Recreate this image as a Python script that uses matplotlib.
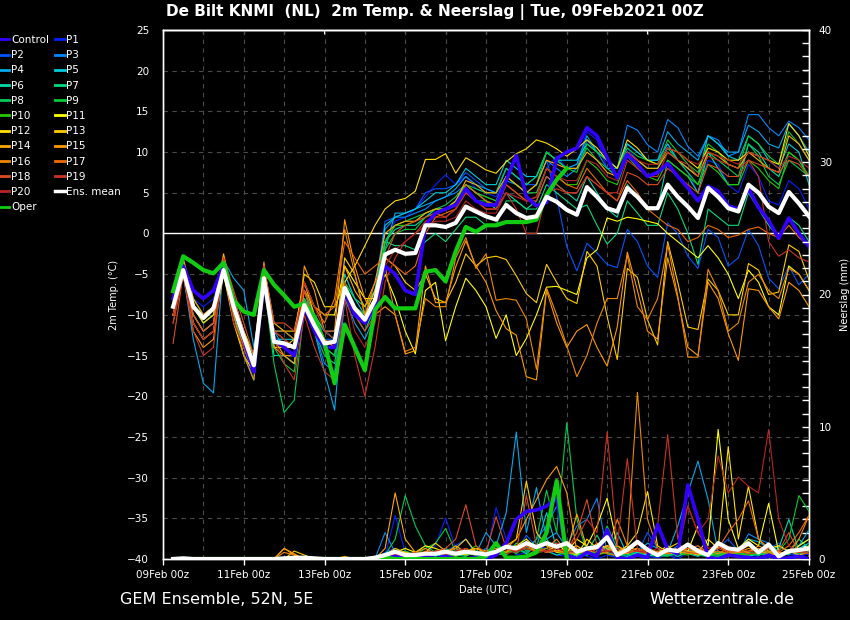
"""
GEM ensemble meteogram, De Bilt
===============================
2m temperature (left axis) and 6-hourly precipitation (right axis) for
control, 20 perturbed members, the operational run and the ensemble mean.
Writes out.png.
"""

import matplotlib

matplotlib.use("Agg")
import matplotlib.pyplot as plt
import numpy as np
from matplotlib.lines import Line2D
from matplotlib.ticker import MultipleLocator

# Lead time of every value in hours after 09Feb2021 00Z (first value is 06Z)
lead_hours = np.arange(6, 385, 6)

date_ticks = [0, 48, 96, 144, 192, 240, 288, 336, 384]
date_labels = ["09Feb 00z", "11Feb 00z", "13Feb 00z", "15Feb 00z", "17Feb 00z",
               "19Feb 00z", "21Feb 00z", "23Feb 00z", "25Feb 00z"]

member_names = ["Control", "P1", "P2", "P3", "P4", "P5", "P6", "P7", "P8", "P9",
                "P10", "P11", "P12", "P13", "P14", "P15", "P16", "P17", "P18",
                "P19", "P20"]
member_colors = ["#3300ff", "#0022ff", "#0055ff", "#0088ff", "#00aaee", "#00ccdd",
                 "#00dda8", "#00dd80", "#00cc55", "#00cc33", "#22cc00", "#ffff00",
                 "#ffe000", "#ffcc00", "#ffaa00", "#ff9900", "#ee8800", "#ee6a00",
                 "#dd4a22", "#cc3322", "#bb2222"]
oper_color = "#11cc11"

# ---------------------------------------------------------------- 2m temp
t_control = [-8, -4, -7, -8, -7, -4, -9, -13,
             -17, -6, -13, -14, -15, -9, -12, -14,
             -14, -7, -10, -11, -9, -4, -5, -7,
             -7.5, 1, 2.5, 3, 3.5, 5.5, 4, 3.5,
             3.5, 6.5, 9.6, 4.5, 3.4, 3.8, 9.2, 10,
             10.5, 13, 12, 9.3, 6.8, 9.7, 8.5, 7,
             7.5, 8.6, 7, 5.6, 4, 5.8, 5.2, 3.4,
             3, 5.5, 3.2, 1.6, -0.6, 1.9, 0, -1.6]
t_p01 = [-8, -4, -8, -9, -8, -3.5, -9, -14,
         -18, -5, -13, -14, -15, -9, -11, -12,
         -12, -6, -9, -11, -9, -1, 1.5, 2,
         3, 4.5, 6, 7.2, 6, 7, 5.5, 5,
         4.5, 7, 6, 5, 5, 8, 9.5, 8,
         8.5, 12.5, 11.5, 8, 7, 10.5, 9, 8,
         8, 11, 9, 7.5, 5, 9, 8.5, 6,
         5, 8.5, 7, 4, 3.5, 6.5, 5.5, 3]
t_p02 = [-9, -5, -9, -11, -10, -5, -9, -12,
         -15, -5, -12, -12, -13, -8, -11, -13,
         -13, -6, -9, -10, -7, 1.5, 2, 2.5,
         3, 5, 5.5, 5.5, 6, 7.5, 6.5, 5.5,
         5, 8, 7, 6, 6, 9, 4.5, -1.6,
         -4.6, -1.2, -2.4, -3.8, -4.2, 0.5, -1, -4,
         -5.4, 1.3, 0, -2.8, -4.3, 0.5, -0.5, -4,
         -3, 0.5, -1.5, -5.5, -6.8, -4, -6.3, -5]
t_p03 = [-9, -4, -10, -12, -11, -4, -9, -14,
         -17, -5, -14, -15, -16, -9, -12, -16,
         -17, -7, -9, -11, -8, 0.5, 2, 2,
         2.5, 3, 4, 4.5, 5, 6, 5, 4.5,
         4, 6.5, 6, 5, 6, 9, 8, 7,
         8, 11.5, 10, 8, 8, 13.3, 12.7, 10.9,
         10, 14, 13, 10.7, 9.5, 12, 11.5, 9.5,
         10, 14.6, 14.6, 13, 12, 13.8, 13, 11.5]
t_p04 = [-10, -5, -13, -18.4, -19.6, -3.3, -5.5, -7,
         -14, -6, -12, -14, -15, -8, -12, -17,
         -21.7, -8, -11, -13, -10, -2, 2.5, 2.5,
         3, 3.5, 4, 4.5, 5.5, 7, 6, 5.5,
         5, 8, 7, 6, 7, 10, 9, 8,
         8.5, 12, 10, 9, 8, 11, 10, 9,
         9, 12.5, 11, 10, 9, 12, 11, 10,
         10, 13.3, 12.5, 11, 10.5, 13.5, 12, 10]
t_p05 = [-9, -4, -9, -10, -9, -4, -8, -12,
         -15, -5, -13, -13, -13, -8, -10, -12,
         -13, -5, -8, -10, -8, 1, 2, 2.5,
         3, 4, 5, 5, 6, 8, 7, 6,
         6, 9, 8, 7, 7, 10, 9, 9,
         9, 11, 10, 9, 8, 11, 10, 9,
         9, 11, 9, 8, 7, 12, 11, 9.5,
         9, 12, 11, 9, 8, 11, 10, 6]
t_p06 = [-8, -4, -9, -11, -10, -5, -10, -14,
         -17, -6, -15, -15, -16, -9, -12, -14,
         -15, -7, -10, -12, -9, -1, 0.5, 1,
         1, 2, 3, 3, 4, 6, 5, 4,
         3, 5, 4, 3, 4, 7, 6, 5,
         4, 7, 5, 3, 2, 6, 4.5, 3,
         3, 9, 8, 7, 5, 10, 8, 6,
         6, 11, 10, 8, 7, 10, 9, 7]
t_p07 = [-9, -4, -9, -10, -9, -4, -8, -12,
         -16, -4, -12, -12, -13, -7, -10, -12,
         -13, -6, -8, -9, -7, -1, -1.5, -1.5,
         -2, -1, 0, -1, 0.5, 2, 2, 1,
         1, 4, 4, 3, 3, 6, 5, 4,
         3, 3.5, 1, -1.3, 0, 4, 2.5, 1,
         1, 5, 3, 0, -3.8, 3, 2, 1,
         1, 5, 3, 1, -0.5, 2, 1, -1]
t_p08 = [-9, -4, -11, -13, -12, -4, -10, -15,
         -18, -6, -16, -22, -20.5, -9, -12, -15,
         -16, -7, -10, -11, -9, -1, 1, 1.5,
         2, 2.5, 3, 3.5, 4.5, 6, 5.5, 5,
         5, 8, 7, 6, 7, 10, 9, 8,
         8, 10.5, 9, 8, 7, 10, 9, 8,
         8, 10.5, 9, 7.5, 6, 10, 9, 8,
         7, 11, 9.5, 7, 6, 9, 8, 7]
t_p09 = [-8, -3.5, -8, -10, -9, -4, -9, -13,
         -17, -5, -14, -16, -17, -8, -12, -14,
         -15, -6, -9, -11, -9, -2, 0, 0.5,
         0.5, 2, 2.5, 3, 3.5, 5, 4, 4,
         3.5, 7, 6, 5, 6, 10, 9, 8,
         7.5, 11, 10, 9, 8, 10.5, 9.5, 9,
         8.5, 11.5, 10, 8.5, 7.5, 11, 10, 8.5,
         8, 12, 11, 9.5, 8.5, 12.5, 11, 9]
t_p10 = [-9, -4, -9, -11, -10, -5, -10, -14,
         -17, -5, -14, -14, -15, -9, -12, -14,
         -14, -6, -9, -10, -8, -1, 1, 1,
         1.5, 2.5, 3, 3, 4, 6, 5, 4.5,
         4, 7, 6, 5, 5, 8, 7, 6,
         6, 9, 8, 6.5, 6, 9.5, 8, 7,
         6.5, 9, 8, 7, 6, 8.5, 7.5, 6,
         6, 9, 8, 6.5, 5.5, 10, 9, 7]
t_p11 = [-10, -5, -10, -12, -11, -4, -9, -13,
         -16, -5, -13, -14, -14, -6, -9, -10,
         -10, -4, -6, -8, -8, -5, -8, -12,
         -14.8, -7, -6, -13.2, -9, -5.5, -7, -9,
         -12.9, -10, -15, -12.9, -10, -6.6, -6.5, -7,
         -7.5, -3, -2, 1.9, 1.5, 2, 1.8, 1.5,
         1.2, 0, -1, -2, -3, -1.5, -3, -5,
         -8, -4.5, -6, -9, -10, -4, -5, -7]
t_p12 = [-10, -5, -11, -13, -12, -5, -11, -15,
         -17, -6, -14, -14, -13, -5, -6, -9,
         -9, -6, -4, -1.5, 1, 3, 4, 4.3,
         5.2, 9.1, 9.1, 9.8, 7.4, 9.3, 8.6, 7.8,
         7.4, 8.8, 9.8, 10.4, 11.5, 11.1, 10.4, 9.5,
         10.4, 11.5, 10.5, 9, 8, 11.5, 10.5, 9,
         8.5, 10.5, 10, 9, 8, 10.5, 10, 9,
         9, 10, 9.5, 9, 8.5, 13.5, 12, 9.5]
t_p13 = [-9, -4, -9, -11, -10, -3, -8, -12,
         -15, -4, -11, -12, -12, -6, -10, -13,
         -14, -3, -5, -10, -7, -3, -4, -6,
         -7, -5, -8, -8.5, -6, -2.5, -4, -3,
         -2.8, -3.2, -5.2, -7.4, -8.5, -3.8, -6, -8,
         -8.6, -2.2, -4, -10.2, -15.5, -4.3, -5.4, -10.6,
         -13.7, -1, -6, -11.5, -11.8, -5.6, -7, -10,
         -10, -3.7, -4.5, -7.5, -7.2, -1.4, -2.2, -5.7]
t_p14 = [-9, -3, -8, -10, -9, -2.5, -8, -13,
         -16, -4, -12, -13, -14, -7, -11, -14,
         -13, -4, -7, -9, -6, 0, 1, 1.5,
         1.5, 2.5, 3, 3, 4, 6.5, 6, 5,
         5, 7, 6, 5, 6, 9, 8.5, 8,
         8, 10, 9, 7.5, 7, 10, 9, 8,
         8, 10, 9, 8, 7, 10, 9.5, 8.5,
         8, 10, 9, 8, 7.5, 12, 11, 9]
t_p15 = [-10, -5, -12, -14, -13, -3, -9, -14,
         -17, -3.5, -13, -15, -16, -4, -7, -12,
         -12, 1.7, -4, -8, -10, -9, -10, -14.8,
         -14.4, -4, -8.5, -8.5, -4.1, -0.9, -4, -6,
         -9.5, -11.7, -12.5, -17.6, -18, -7, -11, -14,
         -12, -11.2, -14, -16.3, -11.5, -2.3, -7, -12,
         -13, -3, -8, -14, -15, -6, -8, -12.3,
         -15.6, -6.8, -7, -9, -10.5, -6, -7, -9]
t_p16 = [-11, -5, -11, -13, -12, -4, -10, -15,
         -18, -5, -14, -15, -15, -7, -9, -11,
         -8, 0.5, -5, -10, -6, -4, -10, -14.5,
         -14, -8, -9, -9, -3, -0.5, -4.3, -2.5,
         -8.2, -8, -8.2, -10.5, -16.7, -6.7, -10, -13.8,
         -17.6, -15, -11, -8, -8, -2.7, -9, -10.6,
         -8, -1.3, -7.7, -15.2, -15.2, -4.4, -7, -12,
         -11, -6, -5, -7, -8, -4.3, -5, -7]
t_p17 = [-10, -4, -9, -10, -9, -3.5, -9, -13,
         -16, -4, -12, -12, -13, -6, -9, -10,
         -9, -1, -3, -5, -4, -3, -4, -5,
         -4, 0, 2, 2.5, 3, 6, 5, 4,
         3.5, 6, 5, 4, 4.5, 8, 7, 6,
         5.5, 8, 6.5, 5, 4, 6.5, 5, 3,
         2, 1, 0.5, -1, -0.5, 1, 0.5, -0.5,
         -0.2, 0.5, 0.8, 0, -0.5, 1, -0.5, -1.5]
t_p18 = [-13.5, -5, -10, -12, -11, -3, -7, -11,
         -15, -4, -11, -11, -12, -7, -11, -13,
         -14, -6, -10, -12, -10, -3, 0, 1,
         1.5, 2, 2.5, 2, 3, 5, 4, 3,
         3, 6, 5, 4, 4, 7, 6, 5,
         5, 7, 6, 5, 4, 7.5, 7, 6,
         6, 8, 7, 6, 5, 8.5, 8, 7,
         7, 9, 8.5, 8, 7.5, 9, 8.5, 7]
t_p19 = [-11, -5, -12, -15, -14, -3, -8, -12,
         -17, -4, -13, -16, -18, -10, -14, -17,
         -18, -8, -15, -20, -14, -6, -3, -1,
         0, 1.5, 2, 2, 3, 5, 4, 3,
         3, 5, 3, 0, 0, 5, 5.5, 5,
         5, 7, 6, 5, 5, 9, 8, 7,
         7, 10, 9, 8.5, 7, 9.5, 9, 8.5,
         8, 9, 7, -1, -2.8, -2, -3, -3.5]
t_p20 = [-10, -5, -11, -13, -12, -4, -11, -14,
         -17, -5, -12, -13, -14, -6, -9, -12,
         -13, -7, -12, -14, -11, -4, -2, -1,
         0, 1, 1.5, 1.5, 2, 4, 3, 2.5,
         2.5, 5, 4.5, 4, 4.5, 8, 7, 6.5,
         6.5, 9, 8.5, 7, 6.5, 10, 9, 8.5,
         8.5, 10.5, 10, 9, 8.5, 10, 9.5, 9,
         8.5, 10, 9.5, 9, 8, 9.5, 9, 8]
# operational run stops at +240h
t_oper = [-7.1, -2.8, -3.6, -4.5, -4.9, -3.6, -8.2, -9.6,
          -10, -4.5, -6.3, -7.6, -9, -8.6, -10.2, -13.5,
          -18.4, -11.2, -14, -16.8, -9.4, -7.8, -9.2, -9.2,
          -9.2, -4.7, -4.5, -5.9, -2.2, 0.8, 0.2, 1.0,
          1.0, 1.4, 1.4, 1.4, 1.7, 4.7, 6.6, 8.0]
t_mean = [-9.0, -4.5, -9.0, -10.4, -9.2, -4.5, -9.0, -12.7,
          -16.2, -5.5, -13.3, -13.5, -14.0, -8.8, -11.3, -13.5,
          -13.3, -6.7, -9.2, -10.6, -8.2, -2.6, -2.0, -2.5,
          -2.4, 1.0, 1.0, 0.8, 1.3, 3.3, 2.7, 2.1,
          1.7, 3.5, 2.5, 1.9, 2.1, 4.5, 3.9, 2.9,
          2.3, 5.7, 4.5, 3.1, 2.7, 5.6, 4.5, 3.1,
          3.1, 6.0, 4.5, 3.3, 1.9, 5.6, 4.5, 3.1,
          2.7, 6.0, 5.0, 3.3, 2.5, 5.1, 3.7, 2.1]

# ---------------------------------------------------------- precipitation
p_control = [0, 0, 0, 0, 0, 0, 0, 0,
             0, 0, 0, 0, 0, 0, 0, 0,
             0, 0, 0, 0, 0, 0, 0.2, 0,
             0, 0.3, 0, 0.2, 0, 0, 0.1, 0,
             0.3, 1.2, 3.0, 3.6, 3.7, 4.0, 4.6, 0.3,
             0, 0.5, 0.2, 2.2, 0.1, 0, 0.3, 0.1,
             2.6, 0.7, 0.4, 5.6, 3.0, 0.1, 0, 0.3,
             0.2, 0.1, 0, 0.3, 0, 0.1, 0.2, 0]
p_p01 = [0, 0, 0, 0, 0, 0, 0, 0,
         0, 0, 0, 0, 0, 0, 0, 0,
         0, 0, 0, 0, 0, 0.2, 3.3, 0.5,
         0.2, 0.5, 1.0, 3.1, 0.8, 0.3, 0.5, 0.2,
         3.9, 1.5, 0.3, 0.5, 1.0, 0.8, 0.3, 0.2,
         0.5, 0.2, 0, 0.3, 0.1, 0, 0.4, 0.2,
         0.1, 0.3, 0, 0.5, 1.0, 0.2, 0, 0.3,
         0.5, 0.2, 0, 0.1, 0.3, 0.6, 0.2, 0.4]
p_p02 = [0, 0, 0, 0, 0, 0, 0, 0,
         0, 0, 0, 0, 0, 0, 0, 0,
         0, 0, 0, 0, 0, 0.5, 0.8, 0.3,
         0.5, 0.2, 0.4, 0.6, 1.0, 1.5, 0.3, 0.2,
         0.5, 1.0, 0.6, 1.8, 0.9, 0.5, 1.2, 0.8,
         0.4, 0.6, 0.3, 1.0, 0.5, 0.2, 0.4, 2.0,
         0.8, 0.3, 0.2, 0.6, 0.4, 0.3, 0.8, 1.5,
         0.6, 0.3, 0.2, 0.8, 1.2, 0.4, 0.3, 0.6]
p_p03 = [0, 0, 0, 0, 0, 0, 0, 0,
         0, 0, 0, 0, 0, 0, 0, 0,
         0, 0, 0, 0, 0, 2.0, 0.5, 0.3,
         0.2, 0.5, 0.3, 0.2, 0.6, 0.4, 0.3, 0.8,
         0.5, 0.3, 1.0, 0.8, 1.5, 2.5, 4.0, 1.0,
         2.5, 3.0, 4.6, 0.5, 0.3, 0.8, 0.2, 0.4,
         0.3, 0.5, 1.0, 0.6, 0.8, 0.3, 0.2, 0.5,
         0.4, 1.9, 1.5, 1.2, 0.5, 0.3, 1.0, 1.5]
p_p04 = [0, 0, 0, 0, 0, 0, 0, 0,
         0, 0, 0, 0, 0, 0, 0, 0,
         0, 0, 0, 0, 0, 0.3, 0.5, 0.2,
         0.3, 0.4, 0.2, 0.5, 0.8, 0.6, 0.4, 2.0,
         1.0, 3.5, 9.6, 2.0, 5.4, 1.5, 2.0, 0.8,
         0.3, 0.5, 1.0, 0.8, 0.4, 0.6, 0.5, 1.2,
         0.8, 0.5, 2.5, 5.0, 7.4, 4.5, 0.5, 0.3,
         0.6, 1.5, 1.3, 0.8, 0.4, 0.5, 1.0, 2.2]
p_p05 = [0, 0, 0, 0, 0, 0, 0, 0,
         0, 0, 0, 0, 0, 0, 0, 0,
         0, 0, 0, 0, 0, 0.1, 0.3, 0.6,
         0.3, 0.2, 0.6, 0.3, 0.2, 0.4, 0.5, 0.3,
         0.6, 0.8, 0.5, 1.2, 0.9, 3.5, 0.8, 0.5,
         0.4, 0.3, 0.6, 0.5, 2.0, 0.3, 0.5, 0.2,
         0.5, 0.3, 0.6, 0.4, 0.2, 0.5, 0.3, 0.4,
         0.3, 0.6, 0.8, 0.5, 1.0, 0.5, 0.8, 1.2]
p_p06 = [0, 0, 0, 0, 0, 0, 0, 0,
         0, 0, 0, 0, 0, 0, 0, 0,
         0, 0, 0, 0, 0, 0.2, 0.4, 0.2,
         0.4, 0.2, 0.3, 0.5, 0.3, 0.2, 0.6, 0.4,
         0.3, 0.5, 0.8, 0.4, 1.0, 0.6, 0.3, 0.5,
         0.2, 0.4, 0.6, 1.0, 0.3, 0.2, 0.5, 0.3,
         0.2, 0.3, 0.4, 0.6, 0.3, 0.2, 0.5, 0.4,
         0.3, 0.2, 0.4, 0.3, 0.8, 3.0, 0.6, 0.5]
p_p07 = [0, 0, 0, 0, 0, 0, 0, 0,
         0, 0, 0, 0, 0, 0, 0, 0,
         0, 0, 0, 0, 0, 0, 0.3, 0.5,
         0.2, 0.5, 0.3, 0.8, 0.4, 0.3, 0.5, 0.6,
         0.4, 0.3, 1.2, 0.6, 0.8, 1.5, 0.6, 0.4,
         0.3, 0.5, 1.8, 0.4, 0.2, 0.6, 0.3, 0.5,
         0.4, 0.6, 0.2, 0.5, 0.3, 0.6, 0.4, 0.2,
         0.5, 0.4, 0.3, 0.6, 0.2, 0.4, 1.5, 0.8]
p_p08 = [0, 0, 0, 0, 0, 0, 0, 0,
         0, 0, 0, 0, 0, 0, 0, 0,
         0, 0, 0, 0, 0, 0.3, 1.5, 4.8,
         2.5, 1.0, 0.5, 0.3, 0.8, 0.4, 0.3, 0.5,
         0.6, 0.4, 0.8, 0.5, 1.5, 5.2, 2.0, 10.3,
         3.0, 0.5, 0.3, 2.5, 0.8, 0.4, 0.3, 0.6,
         0.5, 0.3, 0.4, 0.6, 0.3, 0.2, 0.5, 0.3,
         0.2, 0.4, 0.3, 0.5, 0.3, 0.6, 0.4, 0.5]
p_p09 = [0, 0, 0, 0, 0, 0, 0, 0,
         0, 0, 0, 0, 0, 0, 0, 0,
         0, 0, 0, 0, 0, 0.1, 0.4, 0.6,
         0.3, 0.8, 1.2, 2.3, 0.5, 0.3, 0.6, 0.4,
         0.5, 0.8, 0.4, 1.0, 0.6, 0.8, 0.5, 0.3,
         0.4, 0.6, 0.3, 0.5, 0.2, 0.4, 0.3, 0.5,
         0.3, 0.2, 0.5, 0.4, 0.6, 0.3, 0.2, 0.4,
         0.3, 0.5, 0.4, 0.2, 0.6, 1.5, 4.8, 3.6]
p_p10 = [0, 0, 0, 0, 0, 0, 0, 0,
         0, 0, 0, 0, 0, 0, 0, 0,
         0, 0, 0, 0, 0, 0.2, 0.3, 0.2,
         0.3, 0.4, 0.6, 0.3, 0.2, 0.5, 1.0, 0.4,
         0.3, 0.5, 0.6, 0.8, 0.5, 0.6, 1.0, 0.8,
         0.5, 0.3, 0.6, 0.4, 0.3, 0.5, 0.8, 0.4,
         0.3, 0.5, 0.4, 0.3, 0.6, 0.4, 0.3, 0.5,
         0.4, 0.3, 0.5, 0.6, 0.3, 0.5, 0.8, 0.6]
p_p11 = [0, 0, 0, 0, 0, 0, 0, 0,
         0, 0, 0, 0, 0, 0, 0, 0,
         0, 0, 0, 0, 0, 0, 0.5, 0.8,
         0.5, 1.0, 0.8, 0.5, 0.3, 0.6, 0.8, 0.5,
         0.6, 0.8, 1.0, 1.5, 0.8, 0.5, 1.2, 0.5,
         1.5, 1.0, 2.5, 4.6, 1.0, 0.5, 1.2, 0.8,
         0.5, 1.0, 0.4, 0.6, 2.5, 1.0, 9.8, 3.0,
         0.8, 1.5, 1.0, 4.2, 0.5, 0.4, 1.0, 1.5]
p_p12 = [0, 0, 0, 0, 0, 0, 0, 0,
         0, 0, 0, 0, 0, 0, 0, 0,
         0, 0, 0, 0, 0, 0.1, 0.3, 0.5,
         0.3, 0.2, 0.4, 0.6, 0.5, 0.3, 0.8, 0.6,
         0.5, 1.0, 0.6, 1.0, 0.8, 1.2, 0.5, 0.6,
         0.3, 1.5, 0.8, 1.0, 0.5, 1.0, 2.0, 5.1,
         1.0, 0.5, 0.8, 0.6, 0.5, 1.5, 0.8, 8.5,
         1.5, 5.5, 1.5, 0.8, 1.0, 0.6, 0.5, 1.0]
p_p13 = [0, 0, 0, 0, 0, 0, 0, 0,
         0, 0, 0, 0, 0.6, 0.3, 0, 0,
         0, 0, 0, 0, 0, 0.3, 0.8, 0.5,
         0.3, 0.5, 1.2, 0.6, 0.8, 1.5, 0.5, 0.3,
         0.5, 1.0, 1.5, 5.9, 2.0, 1.0, 0.6, 0.8,
         1.0, 0.5, 1.2, 0.8, 0.5, 1.0, 0.6, 0.4,
         0.5, 0.8, 1.2, 0.5, 0.3, 0.6, 1.0, 0.5,
         0.6, 1.0, 0.5, 0.8, 0.4, 0.6, 0.3, 0.5]
p_p14 = [0, 0, 0, 0, 0, 0, 0, 0,
         0, 0, 0, 0.8, 0.3, 0, 0, 0,
         0, 0, 0, 0, 0, 0.8, 5.0, 1.5,
         0.5, 0.3, 0.6, 0.4, 1.0, 0.5, 0.3, 0.6,
         0.8, 0.5, 1.0, 0.8, 0.6, 1.2, 0.8, 0.5,
         3.4, 0.8, 0.5, 1.0, 0.6, 0.4, 0.8, 0.5,
         0.3, 0.5, 0.8, 0.6, 0.4, 0.5, 1.0, 0.6,
         0.5, 0.8, 0.6, 0.4, 0.3, 0.5, 0.8, 0.6]
p_p15 = [0, 0, 0, 0, 0, 0, 0, 0,
         0, 0, 0, 0.8, 0.4, 0, 0, 0,
         0, 0.2, 0, 0, 0, 0.3, 0.5, 0.3,
         0.5, 0.8, 0.4, 0.6, 0.3, 0.5, 0.8, 0.5,
         0.6, 0.8, 1.5, 3.0, 4.5, 6.0, 7.0, 5.0,
         0.6, 0.4, 0.8, 0.5, 1.0, 0.6, 0.8, 0.5,
         0.6, 0.4, 0.5, 0.8, 0.5, 0.6, 0.4, 0.8,
         0.5, 0.5, 1.0, 0.6, 0.4, 0.5, 0.6, 0.8]
p_p16 = [0, 0, 0, 0, 0, 0, 0, 0,
         0, 0, 0, 0.5, 0.3, 0, 0, 0,
         0, 0, 0, 0, 0, 0.2, 0.4, 0.3,
         0.4, 0.3, 0.6, 0.5, 0.3, 0.8, 0.5, 0.4,
         0.5, 0.6, 0.8, 1.0, 0.6, 0.8, 1.5, 0.5,
         0.8, 0.5, 0.3, 0.6, 3.0, 1.0, 12.6, 3.0,
         0.8, 0.5, 0.6, 0.4, 0.8, 0.5, 0.6, 0.4,
         0.5, 0.6, 0.8, 0.5, 0.3, 0.6, 1.5, 3.3]
p_p17 = [0, 0, 0, 0, 0, 0, 0, 0,
         0, 0, 0, 0, 0, 0, 0, 0,
         0, 0, 0, 0, 0, 0.3, 0.5, 0.4,
         0.3, 0.6, 0.4, 0.5, 0.8, 0.4, 0.6, 0.3,
         0.5, 0.8, 0.6, 1.0, 0.8, 0.5, 0.6, 0.4,
         0.5, 0.6, 0.8, 0.4, 0.3, 0.5, 0.6, 0.8,
         0.5, 0.4, 0.6, 0.8, 1.0, 0.5, 0.8, 2.0,
         3.0, 4.4, 1.5, 0.8, 0.5, 1.0, 2.0, 3.3]
p_p18 = [0, 0, 0, 0, 0, 0, 0, 0,
         0, 0, 0, 0, 0, 0, 0, 0,
         0, 0, 0, 0, 0, 0.2, 0.4, 0.3,
         0.5, 0.3, 0.6, 0.8, 1.5, 4.1, 1.0, 0.5,
         3.2, 0.8, 0.6, 4.8, 1.0, 0.5, 0.8, 0.6,
         2.0, 4.5, 1.0, 0.6, 0.8, 0.5, 0.6, 0.4,
         0.5, 0.6, 0.8, 0.5, 0.4, 0.6, 0.8, 0.5,
         0.6, 0.4, 0.5, 0.8, 0.6, 2.0, 0.5, 0.4]
p_p19 = [0, 0, 0, 0, 0, 0, 0, 0,
         0, 0, 0, 0, 0, 0, 0, 0,
         0, 0, 0, 0, 0, 0.1, 0.3, 0.2,
         0.3, 0.5, 0.4, 0.3, 0.6, 0.8, 0.4, 0.5,
         0.6, 0.8, 0.5, 1.0, 0.8, 0.6, 1.2, 0.8,
         1.5, 3.0, 2.0, 9.6, 1.0, 7.6, 0.8, 0.5,
         2.5, 9.4, 1.5, 4.0, 2.0, 0.8, 1.0, 0.6,
         0.8, 0.6, 0.5, 1.0, 0.4, 0.6, 0.5, 0.8]
p_p20 = [0, 0, 0, 0, 0, 0, 0, 0,
         0, 0, 0, 0, 0, 0, 0, 0,
         0, 0, 0, 0, 0, 0.2, 0.3, 0.4,
         0.3, 0.4, 0.6, 0.5, 0.3, 0.6, 0.4, 0.3,
         0.5, 0.4, 0.6, 0.8, 0.5, 0.6, 0.8, 0.5,
         0.6, 0.8, 0.5, 0.6, 0.4, 0.8, 0.6, 0.5,
         0.8, 0.6, 0.5, 4.0, 2.0, 3.0, 7.8, 5.0,
         6.2, 5.5, 5.0, 9.8, 3.0, 1.0, 0.6, 0.5]
p_oper = [0, 0, 0, 0, 0, 0, 0, 0,
          0, 0, 0, 0, 0, 0, 0, 0,
          0, 0, 0, 0, 0, 0.1, 0, 0,
          0, 0, 0, 0, 0, 0, 0, 0.2,
          1.2, 0.1, 0.1, 0.2, 0.5, 2.0, 5.9, 0.1]
p_mean = [0, 0.05, 0, 0, 0, 0, 0, 0,
          0, 0, 0, 0.05, 0.1, 0.1, 0.05, 0,
          0, 0, 0, 0, 0.1, 0.3, 0.55, 0.3,
          0.3, 0.4, 0.4, 0.55, 0.4, 0.55, 0.45, 0.35,
          0.55, 0.93, 0.8, 1.2, 0.9, 1.2, 0.93, 1.2,
          0.55, 0.8, 0.9, 1.65, 0.3, 0.7, 1.3, 0.7,
          0.3, 0.7, 0.6, 1.1, 0.6, 0.3, 1.2, 0.8,
          0.7, 1.2, 0.5, 1.1, 0.2, 0.6, 0.68, 0.8]

temp_members = [t_control, t_p01, t_p02, t_p03, t_p04, t_p05, t_p06, t_p07,
                t_p08, t_p09, t_p10, t_p11, t_p12, t_p13, t_p14, t_p15,
                t_p16, t_p17, t_p18, t_p19, t_p20]
rain_members = [p_control, p_p01, p_p02, p_p03, p_p04, p_p05, p_p06, p_p07,
                p_p08, p_p09, p_p10, p_p11, p_p12, p_p13, p_p14, p_p15,
                p_p16, p_p17, p_p18, p_p19, p_p20]

FG = "white"
GRID = "#4a4a4a"

fig = plt.figure(figsize=(8.5, 6.2), dpi=100, facecolor="black")
ax = fig.add_axes([163 / 850, 1 - 559 / 620, 646 / 850, 529 / 620])
ax.set_facecolor("black")
axp = ax.twinx()

oper_hours = lead_hours[: len(t_oper)]

# perturbed members first, control / oper / mean on top
for name, color, t_vals, p_vals in zip(member_names, member_colors,
                                       temp_members, rain_members):
    if name == "Control":
        continue
    ax.plot(lead_hours, t_vals, color=color, lw=0.8, zorder=3)
    axp.plot(lead_hours, p_vals, color=color, lw=0.8, zorder=3)

ax.plot(lead_hours, t_control, color=member_colors[0], lw=2.6, zorder=4)
ax.plot(oper_hours, t_oper, color=oper_color, lw=3.0, zorder=5)
ax.plot(lead_hours, t_mean, color=FG, lw=3.0, zorder=6)
axp.plot(lead_hours, p_control, color=member_colors[0], lw=2.6, zorder=4)
axp.plot(oper_hours, p_oper, color=oper_color, lw=3.0, zorder=5)
axp.plot(lead_hours, p_mean, color=FG, lw=3.0, zorder=6)

ax.axhline(0, color=FG, lw=1.0, zorder=2)

# axes, ticks, grid
ax.set_xlim(0, 384)
ax.set_ylim(-40, 25)
axp.set_ylim(0, 40)

ax.set_xticks(date_ticks)
ax.set_xticklabels(date_labels)
ax.xaxis.set_minor_locator(MultipleLocator(24))
ax.set_yticks(np.arange(-40, 26, 5))
ax.tick_params(axis="x", which="major", direction="out", length=4, width=1,
               color=FG, labelcolor=FG, labelsize=7.5, pad=4)
ax.tick_params(axis="x", which="minor", length=0)
ax.tick_params(axis="y", direction="in", length=0, labelcolor=FG,
               labelsize=7.5, pad=10)
ax.grid(True, axis="x", which="both", color=GRID, ls=(0, (4, 4)), lw=0.8)
ax.grid(True, axis="y", which="major", color=GRID, ls=(0, (4, 4)), lw=0.8)
ax.set_axisbelow(True)

top = ax.secondary_xaxis("top")
top.set_xticks(np.arange(0, 385, 24))
top.tick_params(direction="in", length=3, color=FG, labeltop=False)

axp.set_yticks(np.arange(0, 41, 10))
axp.yaxis.set_minor_locator(MultipleLocator(1))
axp.tick_params(axis="y", which="both", direction="in", length=5, width=1,
                color=FG, labelcolor=FG, labelsize=7.5, pad=7)

for a in (ax, axp, top):
    for spine in a.spines.values():
        spine.set_color(FG)
        spine.set_linewidth(1.0)

ax.set_ylabel("2m Temp. (°C)", color=FG, fontsize=7, labelpad=6)
axp.set_ylabel("Neerslag (mm)", color=FG, fontsize=7, labelpad=6)
ax.set_xlabel("Date (UTC)", color=FG, fontsize=7, labelpad=3)

fig.text(435 / 850, 1 - 12 / 620,
         "De Bilt KNMI  (NL)  2m Temp. & Neerslag | Tue, 09Feb2021 00Z",
         color=FG, fontsize=11, fontweight="bold", ha="center", va="center")
fig.text(120 / 850, 1 - 599 / 620, "GEM Ensemble, 52N, 5E", color=FG,
         fontsize=11.5, ha="left", va="center")
fig.text(794 / 850, 1 - 599 / 620, "Wetterzentrale.de", color=FG,
         fontsize=11.5, ha="right", va="center")

# legend: rows read Control/P1, P2/P3, ... -> matplotlib fills columns first
styles = {n: (c, 2.0) for n, c in zip(member_names, member_colors)}
styles["Ens. mean"] = (FG, 2.5)
styles["Oper"] = (oper_color, 2.0)
col_left = member_names[0::2] + ["Oper"]
col_right = member_names[1::2] + ["Ens. mean"]
order = col_left + col_right
handles = [Line2D([], [], color=styles[n][0], lw=styles[n][1]) for n in order]
leg = fig.legend(handles, order, loc="upper left",
                 bbox_to_anchor=(0.0, 1 - 35 / 620), ncol=2, frameon=False,
                 fontsize=7.5, handlelength=0.9, handletextpad=0.15,
                 columnspacing=0.6, labelspacing=0.5, borderpad=0,
                 borderaxespad=0)
for txt in leg.get_texts():
    txt.set_color(FG)

fig.savefig("out.png", dpi=100, facecolor="black")
